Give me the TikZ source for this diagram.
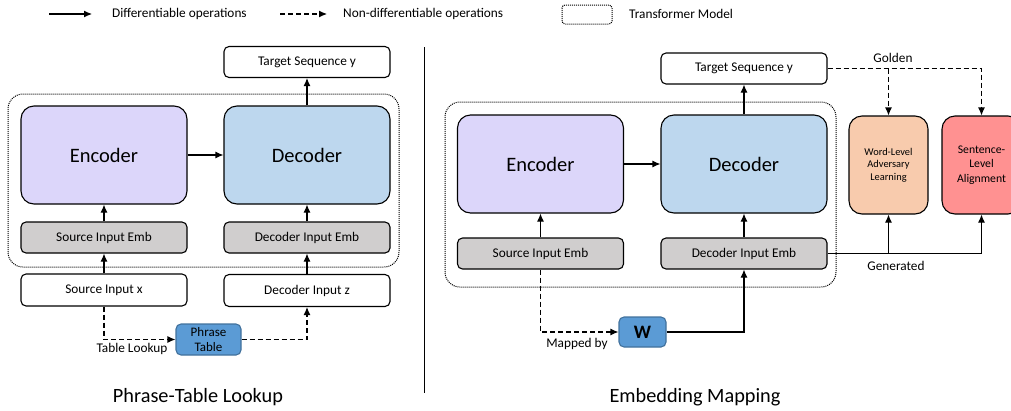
\documentclass[tikz,border=0pt]{standalone}
\usepackage{fontspec}
\setmainfont{Carlito}
\usetikzlibrary{arrows.meta, positioning, calc}
\definecolor{encpurple}{RGB}{220, 214, 250}
\definecolor{decblue}{RGB}{189, 215, 238}
\definecolor{embgray}{RGB}{208, 206, 206}
\definecolor{tabblue}{RGB}{91, 155, 213}
\definecolor{tabborder}{RGB}{65, 113, 156}
\definecolor{advpeach}{RGB}{248, 203, 173}
\definecolor{alignred}{RGB}{255, 145, 145}
\tikzset{
  bigbox/.style={
    draw, line width=1.1pt, rounded corners=13pt,
    minimum width=166pt, minimum height=98pt, inner sep=0pt,
    font=\fontsize{20.5}{24}\selectfont
  },
  smallbox/.style={
    draw, line width=1.1pt, rounded corners=5pt, fill=white,
    minimum width=166pt, minimum height=31pt, inner sep=0pt,
    font=\fontsize{13.3}{16}\selectfont
  },
  embbox/.style={smallbox, fill=embgray},
  tablebox/.style={
    draw=tabborder, line width=1.1pt, fill=tabblue, rounded corners=5pt,
    minimum height=31pt, inner sep=0pt, align=center
  },
  lossbox/.style={
    draw, line width=1.1pt, rounded corners=13pt,
    minimum width=79pt, minimum height=98pt, inner sep=0pt, align=center
  },
  transformer/.style={
    draw, line width=1pt, dash pattern=on 1pt off 1pt, rounded corners=15pt
  },
  arrow/.style={
    -{Latex[length=8pt,width=7pt]}, line width=1.1pt
  },
  dasharrow/.style={arrow, dash pattern=on 5pt off 3pt},
  lbl/.style={font=\fontsize{13.3}{16}\selectfont, inner sep=1pt},
  title/.style={font=\fontsize{20.3}{24}\selectfont, inner sep=0pt}
}

\begin{document}
\begin{tikzpicture}[x=1pt, y=-1pt]
  \useasboundingbox (0,0) rectangle (1011,410);

  % legend
  \coordinate (solidA) at (49,14);
  \coordinate (solidB) at (92,14);
  \draw[arrow] (solidA) -- (solidB);
  \node[lbl, anchor=west] (solidtxt) at (111,14) {Differentiable operations};
  \coordinate (dashA) at (280,14);
  \coordinate (dashB) at (327,14);
  \draw[dasharrow] (dashA) -- (dashB);
  \node[lbl, anchor=west] (dashtxt) at (342,14) {Non-differentiable operations};
  \draw[transformer, rounded corners=3pt] (562,5) rectangle (612,24);
  \node[lbl, anchor=west] (tftxt) at (628,14) {Transformer Model};

  % separator
  \draw[line width=1pt] (424,47) -- (424,393);

  % ---- Phrase-Table Lookup ----
  \draw[transformer] (8,94) rectangle (399,267);
  \node[smallbox] (tgtL) at (307,62) {Target Sequence y};
  \node[bigbox, fill=encpurple] (encL) at (104,155) {Encoder};
  \node[bigbox, fill=decblue] (decL) at (307,155) {Decoder};
  \node[embbox] (srcembL) at (104,237.5) {Source Input Emb};
  \node[embbox] (decembL) at (307,237.5) {Decoder Input Emb};
  \node[smallbox, minimum height=32pt] (srcL) at (104,290) {Source Input x};
  \node[smallbox, minimum height=32pt] (decinL) at (307,290.5) {Decoder Input z};
  \node[tablebox, minimum width=65pt, font=\fontsize{13}{15.3}\selectfont] (phrase) at (208.5,339.5) {Phrase\\Table};

  \draw[arrow] (srcL) -- (srcembL);
  \draw[arrow] (srcembL) -- (encL);
  \draw[arrow] (encL) -- (decL);
  \draw[arrow] (decinL) -- (decembL);
  \draw[arrow] (decembL) -- (decL);
  \draw[arrow] (decL) -- (tgtL);
  \draw[dasharrow] (srcL.south) |- (phrase.west);
  \draw[dasharrow] (phrase.east) -| (decinL.south);
  \node[lbl] (lookuptxt) at (132,349) {Table Lookup};

  \node[title] (titleL) at (198,397) {Phrase-Table Lookup};

  % ---- Embedding Mapping ----
  \draw[transformer] (445,102) rectangle (836,287);
  \node[smallbox] (tgtR) at (744,68.5) {Target Sequence y};
  \node[bigbox, fill=encpurple] (encR) at (540.5,164) {Encoder};
  \node[bigbox, fill=decblue] (decR) at (744,164) {Decoder};
  \node[embbox] (srcembR) at (540.5,253.5) {Source Input Emb};
  \node[embbox] (decembR) at (744,253.5) {Decoder Input Emb};
  \node[tablebox, minimum width=47pt, minimum height=30pt, font=\fontsize{19}{22}\selectfont\bfseries] (W) at (642.5,332) {W};
  \node[lossbox, fill=advpeach, font=\fontsize{10.4}{12.3}\selectfont] (word) at (888.5,165) {Word-Level\\Adversary\\Learning};
  \node[lossbox, fill=alignred, font=\fontsize{11.7}{14.5}\selectfont] (sent) at (981.5,165) {Sentence-\\Level\\Alignment};

  \draw[arrow] (srcembR) -- (encR);
  \draw[arrow] (encR) -- (decR);
  \draw[arrow] (decembR) -- (decR);
  \draw[arrow] (decR) -- (tgtR);
  \draw[dasharrow] (srcembR.south) |- (W.west);
  \draw[arrow] (W.east) -| (decembR.south);
  \node[lbl] (mappedtxt) at (577,344) {Mapped by};

  \coordinate (goldsplit) at (tgtR.east -| word.north);
  \draw[dasharrow] (tgtR.east) -| (sent.north);
  \draw[dasharrow] (goldsplit) -- (word.north);
  \node[lbl] (goldtxt) at (893,58) {Golden};
  \coordinate (gensplit) at (decembR.east -| word.south);
  \draw[arrow] (decembR.east) -| (sent.south);
  \draw[arrow] (gensplit) -- (word.south);
  \node[lbl] (gentxt) at (896,266) {Generated};

  \node[title] (titleR) at (695,397) {Embedding Mapping};
\end{tikzpicture}
\end{document}
